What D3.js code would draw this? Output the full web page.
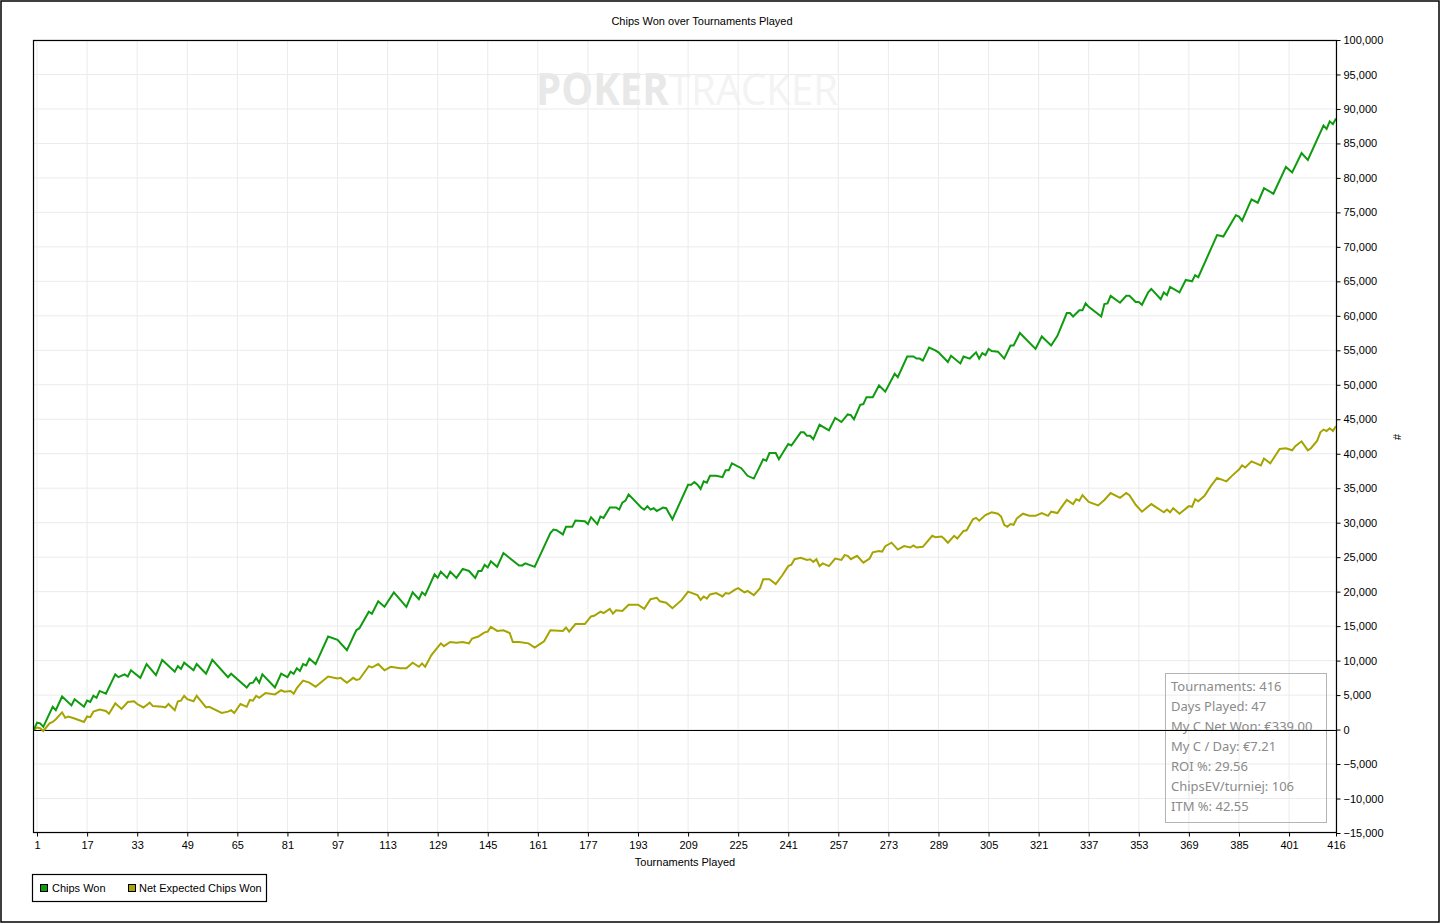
<!DOCTYPE html>
<html>
<head>
<meta charset="utf-8">
<script src="https://cdn.jsdelivr.net/npm/d3@7"></script>
<style>
  body { margin: 0; background: #fff; }
  svg { display: block; font-family: "Liberation Sans", Arial, sans-serif; }
</style>
</head>
<body>
<svg id="chart" width="1444" height="924"></svg>
<script>
// ---- Data ----
const chartTitle = "Chips Won over Tournaments Played";
const xTickValues = [1, 17, 33, 49, 65, 81, 97, 113, 129, 145, 161, 177, 193, 209, 225, 241, 257, 273, 289, 305, 321, 337, 353, 369, 385, 401, 416];
const yTickValues = [-15000, -10000, -5000, 0, 5000, 10000, 15000, 20000, 25000, 30000, 35000, 40000, 45000, 50000, 55000, 60000, 65000, 70000, 75000, 80000, 85000, 90000, 95000, 100000];
const seriesNames = ["Chips Won", "Net Expected Chips Won"];
const seriesColors = ["#0f9b0f", "#a6a400"];

// [tournament, chips]
const chipsWon = [[0,0],[1,1000],[2,900],[3,400],[6,3300],[7,2800],[9,4800],[12,3500],[13,4400],[16,3300],[17,4200],[18,4000],[19,4900],[20,4600],[21,5600],[23,5200],[26,8000],[27,7600],[29,8000],[30,7700],[31,8600],[34,7500],[36,9500],[39,7900],[41,10100],[45,8400],[46,9200],[47,8800],[48,9700],[51,8600],[52,9500],[55,8100],[57,10100],[62,7600],[63,8100],[68,6100],[69,6700],[70,6800],[71,7500],[72,6800],[73,8000],[77,6100],[79,8100],[81,7600],[82,8400],[83,8100],[84,8900],[85,8500],[86,9500],[87,9300],[88,10300],[90,9500],[94,13500],[97,13000],[100,11500],[103,14400],[104,14700],[107,17100],[108,16800],[110,18600],[112,17800],[115,19900],[119,17800],[121,19900],[123,18900],[124,19900],[125,19500],[128,22500],[129,22000],[130,22900],[132,22000],[133,22900],[135,22000],[137,23300],[139,23000],[141,22000],[142,23000],[143,23000],[144,23900],[145,23500],[146,24400],[148,23600],[150,25600],[155,23800],[156,23800],[157,24100],[160,23600],[165,28500],[166,29000],[167,28900],[169,28300],[170,29400],[172,29400],[173,30300],[176,30200],[177,29800],[178,30800],[180,29800],[181,30900],[182,30700],[184,32200],[186,32200],[187,31900],[188,32900],[189,33200],[190,34100],[194,32200],[195,31900],[196,32400],[197,31900],[198,32100],[199,31700],[201,32200],[202,32100],[204,30500],[209,35500],[210,35500],[211,35900],[212,35500],[213,34900],[214,36000],[215,35800],[216,36800],[218,36800],[220,36600],[221,37600],[222,37600],[223,38600],[226,37900],[228,36800],[230,36400],[233,39200],[234,39000],[235,40100],[237,40100],[238,39200],[241,41400],[242,41200],[245,43100],[246,43100],[247,42600],[248,42600],[249,42100],[251,44200],[254,43400],[256,45200],[258,44600],[260,45700],[261,45600],[262,45000],[264,47100],[265,47200],[266,48200],[268,48200],[270,49900],[272,49000],[275,51600],[276,51100],[279,54100],[281,54100],[282,53800],[283,53800],[284,53500],[286,55400],[288,55000],[289,54700],[292,53300],[293,54200],[296,53100],[297,54100],[299,53800],[301,54700],[302,53800],[303,54600],[304,54300],[305,55200],[306,54900],[308,54800],[310,53800],[312,55700],[313,55700],[315,57500],[320,55200],[322,57000],[325,55700],[327,57100],[330,60400],[331,60400],[332,59900],[334,60800],[335,60800],[336,61800],[337,61300],[341,59900],[342,61700],[343,61800],[344,62900],[347,61900],[349,62900],[350,62900],[352,62000],[353,62000],[354,61600],[356,63400],[357,63900],[360,62400],[361,63400],[362,63000],[363,64200],[366,63400],[368,65200],[370,65000],[371,65900],[372,65600],[378,71700],[379,71600],[380,71500],[384,74600],[385,74400],[386,73800],[389,76900],[391,76400],[393,78500],[396,77700],[400,81600],[402,80800],[405,83600],[407,82600],[412,87600],[413,87100],[414,88200],[415,87800],[416,88600]];

const netExpected = [[0,0],[1,300],[2,200],[3,-200],[5,900],[6,1100],[7,1500],[9,2500],[10,1700],[11,1900],[13,1600],[16,1100],[17,1900],[18,1800],[19,2600],[21,2900],[23,2700],[24,2300],[26,3800],[28,3000],[30,4000],[32,4100],[33,3700],[35,3200],[37,3900],[38,3400],[41,3300],[42,3200],[43,3700],[45,2800],[46,4100],[47,4200],[48,4900],[49,4400],[51,4100],[52,4900],[55,3200],[56,3300],[60,2400],[62,2600],[63,2800],[64,2400],[66,3700],[68,3300],[69,4300],[70,4200],[71,4900],[72,4600],[74,5300],[77,5100],[79,5700],[80,5500],[82,5600],[83,5200],[84,6000],[86,7100],[88,6800],[90,6200],[94,7700],[97,7400],[98,7500],[100,6800],[102,7500],[103,7200],[104,7300],[107,9200],[108,9000],[110,9500],[112,8600],[114,9100],[117,8900],[119,8900],[121,9700],[123,9100],[124,9600],[125,9100],[127,10800],[130,12500],[131,12100],[133,12700],[135,12600],[137,12700],[139,12500],[140,13200],[142,13500],[143,13800],[144,14100],[145,14200],[146,14900],[148,14300],[150,14400],[152,14000],[153,12700],[155,12700],[158,12500],[160,11900],[162,12500],[163,12800],[165,14400],[169,14300],[170,14800],[171,14200],[173,15300],[176,15300],[178,16400],[179,16500],[181,17100],[182,16900],[184,17500],[185,16800],[186,17300],[188,17200],[190,18100],[193,18100],[195,17500],[197,18900],[199,19100],[200,18600],[202,18400],[204,17600],[207,18800],[209,20000],[212,19500],[213,18800],[214,19300],[215,19000],[216,19600],[218,19800],[220,19300],[221,19800],[222,19700],[224,20300],[225,20500],[227,19900],[228,20100],[230,19500],[232,20500],[233,21800],[235,21800],[237,21100],[239,22300],[241,23700],[242,23900],[243,24700],[245,24900],[247,24600],[248,24700],[249,24300],[250,24700],[251,23700],[252,24100],[254,23700],[256,24800],[258,24600],[259,25300],[260,25200],[261,24700],[263,25200],[265,24200],[267,24800],[268,25700],[270,25900],[271,25800],[272,26600],[274,27100],[276,26100],[278,26600],[280,26400],[281,26700],[282,26400],[284,26500],[287,28100],[288,27900],[290,28000],[291,27600],[292,27100],[294,28100],[295,27700],[297,28800],[298,28900],[300,30500],[301,30700],[302,30300],[304,31100],[306,31500],[308,31300],[309,30900],[310,29700],[311,29400],[312,29800],[313,29700],[314,30600],[316,31300],[318,31000],[320,31000],[322,31400],[324,31000],[325,31600],[327,31400],[329,32700],[330,33300],[332,32700],[333,33400],[334,33200],[335,34000],[337,33000],[340,32500],[342,33300],[344,34300],[347,33600],[349,34300],[350,34000],[352,32600],[354,31600],[357,32700],[360,31800],[361,31500],[362,31900],[363,31500],[364,32100],[366,31300],[369,32400],[370,32300],[371,33400],[372,33100],[374,33900],[376,35300],[378,36500],[381,36000],[383,36900],[385,37700],[386,38300],[387,38000],[389,38900],[392,38300],[393,39300],[395,38600],[398,40700],[400,40800],[402,40500],[403,41100],[405,41800],[407,40500],[408,40800],[410,41900],[411,43100],[412,43500],[413,43300],[414,43700],[415,43300],[416,44000]];

const statsLines = ["Tournaments: 416", "Days Played: 47", "My C Net Won: €339.00", "My C / Day: €7.21", "ROI %: 29.56", "ChipsEV/turniej: 106", "ITM %: 42.55"];

// ---- Layout ----
const svg = d3.select("#chart");
const plot = { left: 33, right: 1337, top: 40, bottom: 833 };

const x = d3.scaleLinear().domain([0, 416]).range([33.9, 1336]);
const y = d3.scaleLinear().domain([-15000, 100000]).range([plot.bottom, plot.top]);

// outer border
svg.append("rect").attr("x", 1).attr("y", 1).attr("width", 1438).attr("height", 921)
  .attr("fill", "none").attr("stroke", "#000").attr("stroke-width", 1.5);

// title
svg.append("text").attr("x", 702).attr("y", 25).attr("text-anchor", "middle")
  .attr("font-size", 11).text(chartTitle);

// watermark
const wm = svg.append("text").attr("x", 536).attr("y", 105)
  .attr("font-family", "'Open Sans', 'DejaVu Sans', sans-serif").attr("font-weight", 700)
  .attr("font-size", 44).attr("textLength", 302).attr("lengthAdjust", "spacingAndGlyphs");
wm.append("tspan").attr("fill", "#e8e8e8").text("POKER");
wm.append("tspan").attr("fill", "#f3f3f3").attr("font-weight", 400).text("TRACKER");

// grid
const grid = svg.append("g");
grid.selectAll("line.v").data(xTickValues).join("line")
  .attr("x1", d => x(d)).attr("x2", d => x(d))
  .attr("y1", plot.top).attr("y2", plot.bottom)
  .attr("stroke", "#ebebeb").attr("stroke-width", 1);
grid.selectAll("line.h").data(yTickValues).join("line")
  .attr("x1", plot.left).attr("x2", plot.right)
  .attr("y1", d => y(d)).attr("y2", d => y(d))
  .attr("stroke", "#ebebeb").attr("stroke-width", 1);

// stats box
const sb = svg.append("g");
sb.append("rect").attr("x", 1165.5).attr("y", 673.5).attr("width", 161).attr("height", 149)
  .attr("fill", "none").attr("stroke", "#b4b4b4").attr("stroke-width", 1);
sb.selectAll("text").data(statsLines).join("text")
  .attr("x", 1171).attr("y", (d, i) => 691 + i * 20)
  .attr("font-family", "'Noto Sans', 'Open Sans', sans-serif")
  .attr("font-size", 13).attr("fill", "#8a8a8a").text(d => d);

// zero line
svg.append("line").attr("x1", plot.left).attr("x2", plot.right)
  .attr("y1", Math.round(y(0)) + 0.5).attr("y2", Math.round(y(0)) + 0.5)
  .attr("stroke", "#000").attr("stroke-width", 1);

// series
const clip = svg.append("clipPath").attr("id", "clip").append("rect")
  .attr("x", plot.left).attr("y", plot.top).attr("width", plot.right - plot.left).attr("height", plot.bottom - plot.top);
const line = d3.line().x(d => x(d[0])).y(d => y(d[1]));
const series = [netExpected, chipsWon];
const seriesCol = [seriesColors[1], seriesColors[0]];
svg.append("g").attr("clip-path", "url(#clip)").selectAll("path").data(series).join("path")
  .attr("d", line).attr("fill", "none")
  .attr("stroke", (d, i) => seriesCol[i]).attr("stroke-width", 2)
  .attr("stroke-linejoin", "miter");

// plot frame
svg.append("rect").attr("x", plot.left + 0.5).attr("y", plot.top + 0.5)
  .attr("width", plot.right - plot.left - 1).attr("height", plot.bottom - plot.top - 1)
  .attr("fill", "none").attr("stroke", "#000").attr("stroke-width", 1.2);

// axes
const fmt = d3.format(",");
const yAxis = svg.append("g").attr("transform", `translate(${plot.right - 0.5},0)`)
  .call(d3.axisRight(y).tickValues(yTickValues).tickFormat(fmt).tickSize(4).tickPadding(3));
const xAxis = svg.append("g").attr("transform", `translate(0,${plot.bottom - 0.5})`)
  .call(d3.axisBottom(x).tickValues(xTickValues).tickFormat(d3.format("d")).tickSize(4).tickPadding(5));
[xAxis, yAxis].forEach(a => {
  a.select(".domain").remove();
  a.selectAll("text").attr("font-family", "'Liberation Sans', Arial, sans-serif").attr("font-size", 11).attr("fill", "#000");
  a.selectAll("line").attr("stroke", "#000");
});

// axis titles
svg.append("text").attr("x", 685).attr("y", 866).attr("text-anchor", "middle")
  .attr("font-size", 11).text("Tournaments Played");
svg.append("text").attr("transform", "translate(1393,437) rotate(90)").attr("text-anchor", "middle")
  .attr("font-size", 11).text("#");

// legend
const lg = svg.append("g");
lg.append("rect").attr("x", 32.5).attr("y", 874.5).attr("width", 234).attr("height", 27)
  .attr("fill", "#fff").attr("stroke", "#000").attr("stroke-width", 1.2);
const legendX = [40.5, 128.5];
const legendTextX = [52, 139];
seriesNames.forEach((n, i) => {
  lg.append("rect").attr("x", legendX[i]).attr("y", 884.5).attr("width", 7).attr("height", 7)
    .attr("fill", seriesColors[i]).attr("stroke", "#000").attr("stroke-width", 1);
  lg.append("text").attr("x", legendTextX[i]).attr("y", 892).attr("font-size", 11).text(n);
});
</script>
</body>
</html>
